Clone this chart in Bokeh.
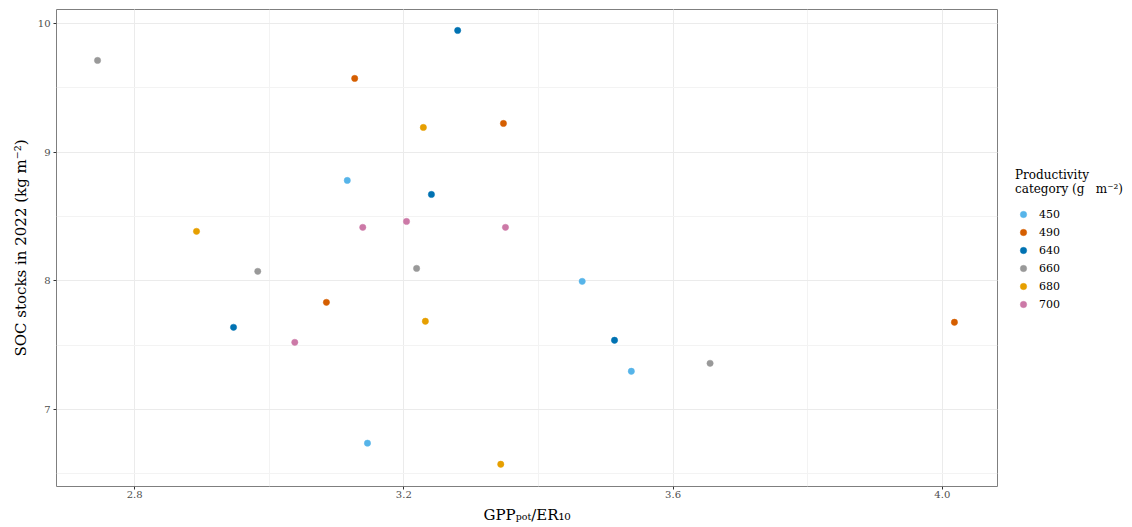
from bokeh.plotting import figure
from bokeh.models import ColumnDataSource, Legend, LegendItem, SingleIntervalTicker, Range1d, NumeralTickFormatter
from bokeh.embed import file_html
from bokeh.resources import INLINE

categories = ["450", "490", "640", "660", "680", "700"]
colors = ["#56B4E9", "#D55E00", "#0072B2", "#999999", "#E69F00", "#CC79A7"]

x_450 = [3.116, 3.465, 3.538, 3.146]
y_450 = [8.780, 7.995, 7.296, 6.737]
x_490 = [3.127, 3.348, 3.085, 4.018]
y_490 = [9.573, 9.223, 7.832, 7.677]
x_640 = [3.280, 3.241, 2.947, 3.513]
y_640 = [9.946, 8.671, 7.638, 7.537]
x_660 = [2.745, 2.983, 3.219, 3.655]
y_660 = [9.713, 8.073, 8.096, 7.358]
x_680 = [3.229, 2.892, 3.232, 3.344]
y_680 = [9.192, 8.384, 7.685, 6.573]
x_700 = [3.139, 3.204, 3.351, 3.038]
y_700 = [8.415, 8.461, 8.415, 7.521]

xs = [x_450, x_490, x_640, x_660, x_680, x_700]
ys = [y_450, y_490, y_640, y_660, y_680, y_700]

FONT = "DejaVu Serif"

p = figure(width=1125, height=527, output_backend="svg", toolbar_location=None,
           x_range=Range1d(2.684, 4.082), y_range=Range1d(6.40, 10.109),
           frame_width=941, frame_height=477,
           min_border_left=56, min_border_top=9, min_border_right=5, min_border_bottom=10)

p.background_fill_color = "white"
p.border_fill_color = "white"
p.outline_line_color = "#7f7f7f"
p.outline_line_width = 1

p.xaxis.ticker = SingleIntervalTicker(interval=0.4, num_minor_ticks=2)
p.yaxis.ticker = SingleIntervalTicker(interval=1, num_minor_ticks=2)
p.xaxis.formatter = NumeralTickFormatter(format="0.0")
for ax in [p.xaxis[0], p.yaxis[0]]:
    ax.axis_line_color = None
    ax.major_tick_line_color = "#333333"
    ax.major_tick_in = 0
    ax.major_tick_out = 3
    ax.minor_tick_line_color = None
    ax.major_label_text_font = FONT
    ax.major_label_text_font_size = "10px"
    ax.major_label_text_color = "#4d4d4d"
    ax.axis_label_text_font = FONT
    ax.axis_label_text_font_size = "15px"
    ax.axis_label_text_font_style = "normal"
    ax.axis_label_text_color = "black"

p.xaxis.major_label_standoff = 0
p.xaxis.axis_label_standoff = 5
p.yaxis.major_label_standoff = 2
p.yaxis.axis_label_standoff = 5

p.xaxis.axis_label = "GPPₚₒₜ/ER₁₀"
p.yaxis.axis_label = "SOC stocks in 2022 (kg m⁻²)"

for g in p.grid:
    g.grid_line_color = "#ebebeb"
    g.grid_line_width = 1
    g.minor_grid_line_color = "#f3f3f3"
    g.minor_grid_line_width = 1

items = []
for cat, col, xv, yv in zip(categories, colors, xs, ys):
    src = ColumnDataSource(dict(x=xv, y=yv))
    r = p.scatter("x", "y", source=src, size=6.3, fill_color=col, line_color=col, line_width=0.5)
    items.append(LegendItem(label=cat, renderers=[r]))

legend = Legend(items=items, title="Productivity\ncategory (g   m⁻²)",
                location=(18, 174), orientation="vertical")
legend.border_line_color = None
legend.background_fill_alpha = 0
legend.title_text_font = FONT
legend.title_text_font_size = "12px"
legend.title_text_font_style = "normal"
legend.title_text_color = "black"
legend.title_standoff = 10
legend.label_text_font = FONT
legend.label_text_font_size = "11px"
legend.label_text_color = "black"
legend.glyph_width = 16
legend.glyph_height = 16
legend.label_height = 16
legend.spacing = 2
legend.label_standoff = 8
legend.padding = 4
legend.margin = 18
p.add_layout(legend, "right")

open("out.html", "w").write(file_html(p, INLINE))
